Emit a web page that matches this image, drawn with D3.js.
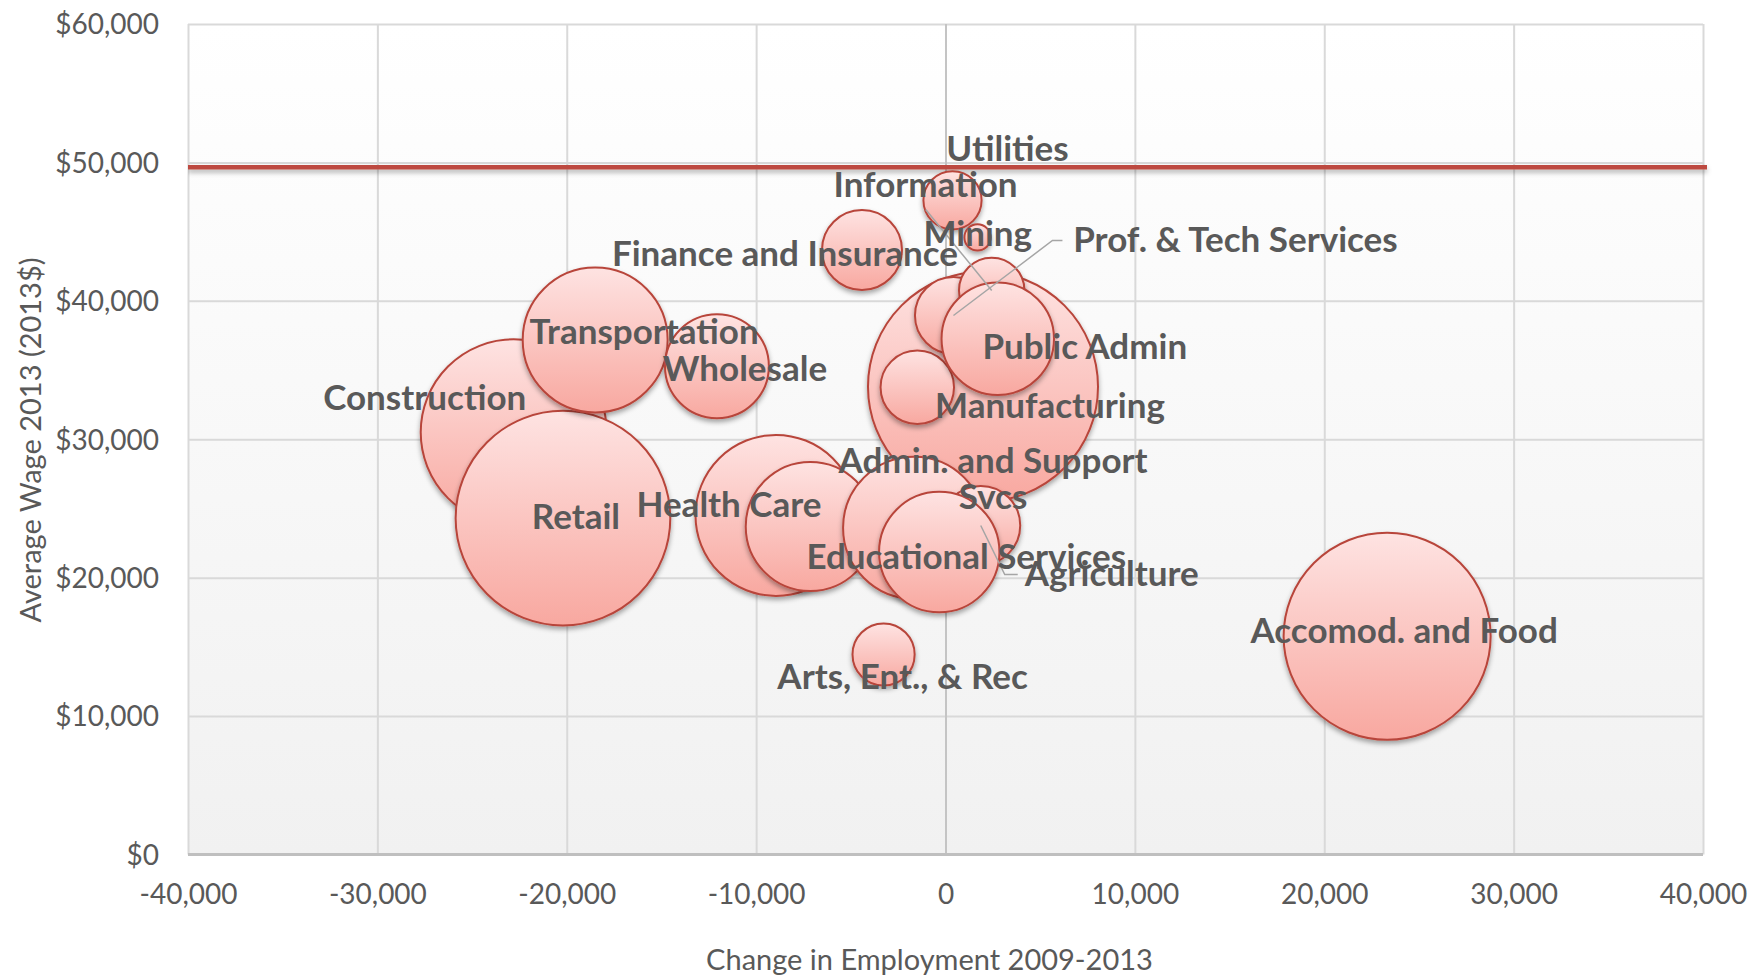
<!DOCTYPE html>
<html>
<head>
<meta charset="utf-8">
<script src="https://cdn.jsdelivr.net/npm/d3@7/dist/d3.min.js"></script>
<style>
  body { margin: 0; background: #fff; }
  text { font-family: Lato, "Open Sans", sans-serif; fill: #595959; }
</style>
</head>
<body>
<div id="chart"></div>
<script>
// industries, in drawing order (later ones sit on top)
var industries = ['Manufacturing', 'Construction', 'Retail', 'Transportation', 'Wholesale',
    'Health Care', 'Social Assistance', 'Admin. and Support Svcs', 'Agriculture',
    'Educational Services', 'Other Services', 'Prof. & Tech Services', 'Mining',
    'Public Admin', 'Information', 'Utilities', 'Finance and Insurance',
    'Arts, Ent., & Rec', 'Accomod. and Food'];
// change in employment 2009-2013
var empChange = [1980, -22800, -20200, -18500, -12070,
    -8950, -7140, -1660, 1860,
    -330, -1490, 420, 2440,
    2760, 370, 1690, -4410,
    -3270, 23320];
// average wage 2013 (2013$)
var avgWage = [33800, 30500, 24300, 37170, 35270,
    24500, 23700, 23600, 23770,
    21850, 33750, 38940, 40750,
    37260, 47260, 44580, 43670,
    14450, 15770];
// bubble size: employment 2013
var employment = [100000, 65400, 87100, 39700, 20400,
    49000, 31500, 38100, 11800,
    27400, 10200, 11200, 8100,
    23900, 6400, 1300, 12100,
    7300, 81000];
// text shown on the chart ('' = no label)
var labelText = ['Manufacturing', 'Construction', 'Retail', 'Transportation', 'Wholesale',
    'Health Care', '', 'Admin. and Support|Svcs', 'Agriculture',
    'Educational Services', '', 'Prof. & Tech Services', 'Mining',
    'Public Admin', 'Information', 'Utilities', 'Finance and Insurance',
    'Arts, Ent., & Rec', 'Accomod. and Food'];

var xTicks = [-40000, -30000, -20000, -10000, 0, 10000, 20000, 30000, 40000];
var yTicks = [0, 10000, 20000, 30000, 40000, 50000, 60000];
var allIndustryWage = 49650;

// label placement relative to the bubble (dragged labels in the original)
var labelPos = {
    'Utilities': { dx: 30, dy: -76 },
    'Information': { dx: -27, dy: -3 },
    'Mining': { dx: -14, dy: -44, leader: [[-66, -81], [0, 0]] },
    'Prof. & Tech Services': { dx: 282, dy: -64, leader: [[109, -75], [99, -75], [0, 0]] },
    'Public Admin': { dx: 87, dy: 20 },
    'Manufacturing': { dx: 67, dy: 31 },
    'Finance and Insurance': { dx: -77, dy: 16 },
    'Transportation': { dx: 49, dy: 4 },
    'Wholesale': { dx: 28, dy: 15 },
    'Construction': { dx: -89, dy: -22 },
    'Retail': { dx: 13, dy: 11 },
    'Health Care': { dx: -47, dy: 2 },
    'Admin. and Support Svcs': { dx: 79, dy: -55 },
    'Educational Services': { dx: 27, dy: 17 },
    'Agriculture': { dx: 131, dy: 61, leader: [[37, 49], [24, 49], [0, 0]] },
    'Arts, Ent., & Rec': { dx: 19, dy: 35 },
    'Accomod. and Food': { dx: 17, dy: 7 }
};

var margin = { top: 24, right: 57, bottom: 121.5, left: 188 },
    W = 1760, H = 976,
    width = W - margin.left - margin.right,
    height = H - margin.top - margin.bottom;

var data = industries.map(function (d, i) {
    return { name: d, x: empChange[i], y: avgWage[i], size: employment[i], label: labelText[i] };
});

var svg = d3.select('#chart').append('svg')
    .attr('width', W)
    .attr('height', H);

var defs = svg.append('defs');
var bg = defs.append('linearGradient').attr('id', 'plotBg')
    .attr('x1', 0).attr('y1', 0).attr('x2', 0).attr('y2', 1);
bg.append('stop').attr('offset', '0%').attr('stop-color', '#ffffff');
bg.append('stop').attr('offset', '100%').attr('stop-color', '#f1f1f1');

var bub = defs.append('linearGradient').attr('id', 'bubbleFill')
    .attr('x1', 0).attr('y1', 0).attr('x2', 0).attr('y2', 1);
bub.append('stop').attr('offset', '0%').attr('stop-color', '#fee3e2');
bub.append('stop').attr('offset', '100%').attr('stop-color', '#f8a8a0');

var shadow = defs.append('filter').attr('id', 'shadow')
    .attr('x', '-20%').attr('y', '-20%').attr('width', '140%').attr('height', '150%');
shadow.append('feDropShadow').attr('dx', 0).attr('dy', 3).attr('stdDeviation', 2.5)
    .attr('flood-color', '#000').attr('flood-opacity', 0.35);

// a flat line has no height, so its shadow needs a user-space region
var lineShadow = defs.append('filter').attr('id', 'lineShadow')
    .attr('filterUnits', 'userSpaceOnUse')
    .attr('x', 0).attr('y', 0).attr('width', W).attr('height', H);
lineShadow.append('feDropShadow').attr('dx', 0).attr('dy', 3).attr('stdDeviation', 2.5)
    .attr('flood-color', '#000').attr('flood-opacity', 0.3);

var g = svg.append('g')
    .attr('transform', 'translate(' + margin.left + ',' + margin.top + ')');

var x = d3.scaleLinear().domain([-40000, 40000]).range([0, width]);
var y = d3.scaleLinear().domain([0, 60000]).range([height, 0]);
var r = d3.scaleSqrt().domain([0, d3.max(employment)]).range([0, 115]);

g.append('rect')
    .attr('width', width)
    .attr('height', height)
    .attr('fill', 'url(#plotBg)');

// gridlines
g.append('g')
    .attr('class', 'grid')
    .call(d3.axisLeft(y).tickValues(yTicks).tickSize(-width).tickFormat(''))
    .call(function (s) { s.select('.domain').remove(); })
    .selectAll('line').attr('stroke', '#d9d9d9').attr('stroke-width', 2);

g.append('g')
    .attr('class', 'grid')
    .attr('transform', 'translate(0,' + height + ')')
    .call(d3.axisBottom(x).tickValues(xTicks).tickSize(-height).tickFormat(''))
    .call(function (s) { s.select('.domain').remove(); })
    .selectAll('line')
    .attr('stroke', function (d) { return d === 0 ? '#c4c4c4' : '#d9d9d9'; })
    .attr('stroke-width', 2);

// x axis line at $0
g.append('line')
    .attr('x1', 0).attr('x2', width)
    .attr('y1', y(0)).attr('y2', y(0))
    .attr('stroke', '#bfbfbf')
    .attr('stroke-width', 3);

// axes labels
var xAxis = g.append('g')
    .attr('transform', 'translate(0,' + height + ')')
    .call(d3.axisBottom(x).tickValues(xTicks).tickSize(0)
        .tickFormat(function (d) { return d3.format(',')(d).replace('\u2212', '-'); }));
xAxis.select('.domain').remove();
xAxis.selectAll('text')
    .attr('y', 40).attr('dy', '0.35em')
    .style('font-size', '28px').attr('fill', '#595959');

var yAxis = g.append('g')
    .call(d3.axisLeft(y).tickValues(yTicks).tickSize(0)
        .tickFormat(function (d) { return '$' + d3.format(',')(d); }));
yAxis.select('.domain').remove();
yAxis.selectAll('text')
    .attr('x', -29).attr('dy', '0.35em')
    .style('font-size', '28px').attr('fill', '#595959');

// all-industry average wage line
g.append('line')
    .attr('x1', x(-40000)).attr('x2', x(40000) + 4)
    .attr('y1', y(allIndustryWage)).attr('y2', y(allIndustryWage))
    .attr('stroke', '#bd4a3f')
    .attr('stroke-width', 4.5)
    .attr('filter', 'url(#lineShadow)');

// bubbles
g.selectAll('.bubble')
    .data(data)
    .enter().append('circle')
    .attr('class', 'bubble')
    .attr('cx', function (d) { return x(d.x); })
    .attr('cy', function (d) { return y(d.y); })
    .attr('r', function (d) { return r(d.size); })
    .attr('fill', 'url(#bubbleFill)')
    .attr('stroke', '#b8453a')
    .attr('stroke-width', 2)
    .attr('filter', 'url(#shadow)');

// leader lines
var withLeader = data.filter(function (d) { return labelPos[d.name] && labelPos[d.name].leader; });
g.selectAll('.leader')
    .data(withLeader)
    .enter().append('polyline')
    .attr('class', 'leader')
    .attr('points', function (d) {
        var cx = x(d.x), cy = y(d.y);
        return labelPos[d.name].leader.map(function (p) { return (cx + p[0]) + ',' + (cy + p[1]); }).join(' ');
    })
    .attr('fill', 'none')
    .attr('stroke', '#a5a5a5')
    .attr('stroke-width', 1.5);

// data labels
var labelled = data.filter(function (d) { return d.label !== ''; });
var labels = g.selectAll('.label')
    .data(labelled)
    .enter().append('text')
    .attr('class', 'label')
    .attr('text-anchor', 'middle')
    .style('font-size', '35px')
    .style('font-weight', 'bold')
    .attr('transform', function (d) {
        var p = labelPos[d.name];
        return 'translate(' + (x(d.x) + p.dx) + ',' + (y(d.y) + p.dy) + ')';
    });
labels.selectAll('tspan')
    .data(function (d) { return d.label.split('|'); })
    .enter().append('tspan')
    .attr('x', 0)
    .attr('dy', function (d, i) { return i === 0 ? 0 : 36; })
    .text(function (d) { return d; });

// axis titles
svg.append('text')
    .attr('x', margin.left + x(0) - 16)
    .attr('y', 960)
    .attr('dy', '0.35em')
    .attr('text-anchor', 'middle')
    .style('font-size', '29px')
    .text('Change in Employment 2009-2013');

svg.append('text')
    .attr('transform', 'translate(31,440) rotate(-90)')
    .attr('dy', '0.35em')
    .attr('text-anchor', 'middle')
    .style('font-size', '29px')
    .text('Average Wage 2013 (2013$)');
</script>
</body>
</html>
